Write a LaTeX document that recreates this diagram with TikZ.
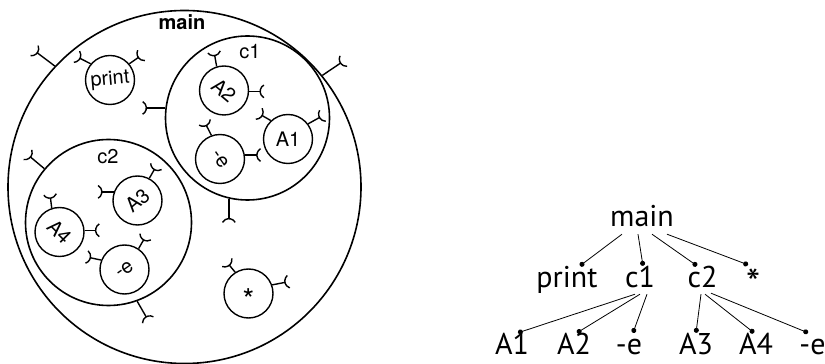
\documentclass[tikz,border=0pt]{standalone}
\usepackage{fontspec}
\usepackage{tikz}
\usetikzlibrary{arrows.meta,positioning}
\newfontfamily\partfont{TeX Gyre Heros}
\newfontfamily\treefont{PT Sans}

\begin{document}
\begin{tikzpicture}[x=1pt,y=1pt,>=Latex,
  ring/.style={draw,circle,line width=1.6pt,inner sep=0pt},
  part/.style={draw,circle,line width=1.4pt,inner sep=0pt,minimum size=49pt,font=\partfont\fontsize{20}{24}\selectfont},
  capt/.style={inner sep=0pt,font=\partfont\fontsize{20}{24}\selectfont},
  plug/.style={line width=1.4pt,-{Arc Barb[reversed,arc=120,length=8pt,width=16pt]}},
  leaf/.style={inner sep=0pt,anchor=base,text height=22pt,text depth=0pt,font=\treefont\fontsize{30}{36}\selectfont},
  branch/.style={line width=0.8pt,-{Circle[length=5pt]}}]
  \fill[white] (0,0) rectangle (825,364);
  \useasboundingbox (0,0) rectangle (825,364);
  \node[ring,minimum size=353pt] (main) at (184.5,177) {};
  \node[ring,minimum size=164pt] (c1) at (247.5,246) {};
  \node[ring,minimum size=166pt] (c2) at (108.5,141.5) {};
  \node[capt,font=\partfont\bfseries\fontsize{20}{24}\selectfont] (mainname) at (182,342) {main};
  \node[capt] (c1name) at (250,312) {c1};
  \node[capt] (c2name) at (108,207) {c2};
  \node[part] (print) at (110,284) {\rotatebox{5}{print}};
  \node[part] (a2) at (224,273.5) {\rotatebox{-40}{A2}};
  \node[part] (a1) at (288,225) {A1};
  \node[part] (e1) at (220,205) {\rotatebox{-55}{-e}};
  \node[part] (a3) at (137.5,163.5) {\rotatebox{40}{A3}};
  \node[part] (a4) at (59.5,132) {\rotatebox{-45}{A4}};
  \node[part] (e2) at (124.5,94.5) {\rotatebox{35}{-e}};
  \node[part] (star) at (248.5,70.5) {\fontsize{30}{30}\selectfont\raisebox{-17pt}[0pt][0pt]{*}};
  \draw[plug] (main.137) -- ++(143:26);
  \draw[plug] (main.39) -- ++(34:26);
  \draw[plug] (c1.173) -- ++(180:23);
  \draw[plug] (c1.-103) -- ++(-90:24);
  \draw[plug] (c2.140) -- ++(140:22);
  \draw[plug] (c2.-70) -- ++(-60:22);
  \draw[plug] (print.140) -- ++(153:16);
  \draw[plug] (print.40) -- ++(35:15);
  \draw[plug] (a2.107) -- ++(100:15);
  \draw[plug] (a2.-2) -- ++(0:15);
  \draw[plug] (a1.133) -- ++(150:14);
  \draw[plug] (a1.37) -- ++(29:17);
  \draw[plug] (e1.110) -- ++(117:15);
  \draw[plug] (e1.9) -- ++(0:16);
  \draw[plug] (a3.160) -- ++(180:16);
  \draw[plug] (a3.62) -- ++(60:14);
  \draw[plug] (a4.108) -- ++(97:14);
  \draw[plug] (a4.4) -- ++(0:15);
  \draw[plug] (e2.158) -- ++(168:15);
  \draw[plug] (e2.56) -- ++(60:14);
  \draw[plug] (star.122) -- ++(130:13);
  \draw[plug] (star.20) -- ++(11:17);
  \node[leaf] (t-main) at (642,137) {main};
  \node[leaf] (t-print) at (567,76) {print};
  \node[leaf] (t-c1) at (640,76) {c1};
  \node[leaf] (t-c2) at (702.5,76) {c2};
  \node[leaf,text height=33pt,font=\treefont\fontsize{40}{40}\selectfont] (t-star) at (753.5,66) {*};
  \node[leaf] (t-a1) at (512,9) {A1};
  \node[leaf] (t-a2) at (574,9) {A2};
  \node[leaf] (t-e1) at (629,9) {-e};
  \node[leaf] (t-a3) at (696,9) {A3};
  \node[leaf] (t-a4) at (756,9) {A4};
  \node[leaf] (t-e2) at (812.5,9) {-e};
  \draw[branch] ([xshift=-20pt,yshift=-7pt]t-main.south) -- ([xshift=13pt]t-print.north);
  \draw[branch] ([xshift=-4pt,yshift=-7pt]t-main.south) -- ([xshift=3pt]t-c1.north);
  \draw[branch] ([xshift=10pt,yshift=-7pt]t-main.south) -- ([xshift=-5.5pt]t-c2.north);
  \draw[branch] ([xshift=25pt,yshift=-7pt]t-main.south) -- ([xshift=-5.5pt]t-star.north);
  \draw[branch] ([xshift=-5pt,yshift=-6pt]t-c1.south) -- ([xshift=6pt]t-a1.north);
  \draw[branch] ([xshift=0pt,yshift=-6pt]t-c1.south) -- ([xshift=3pt]t-a2.north);
  \draw[branch] ([xshift=7pt,yshift=-6pt]t-c1.south) -- ([xshift=4pt]t-e1.north);
  \draw[branch] ([xshift=-1.5pt,yshift=-6pt]t-c2.south) -- ([xshift=0pt]t-a3.north);
  \draw[branch] ([xshift=2.5pt,yshift=-6pt]t-c2.south) -- ([xshift=-2pt]t-a4.north);
  \draw[branch] ([xshift=8.5pt,yshift=-5pt]t-c2.south) -- ([xshift=-4.5pt]t-e2.north);
\end{tikzpicture}
\end{document}
